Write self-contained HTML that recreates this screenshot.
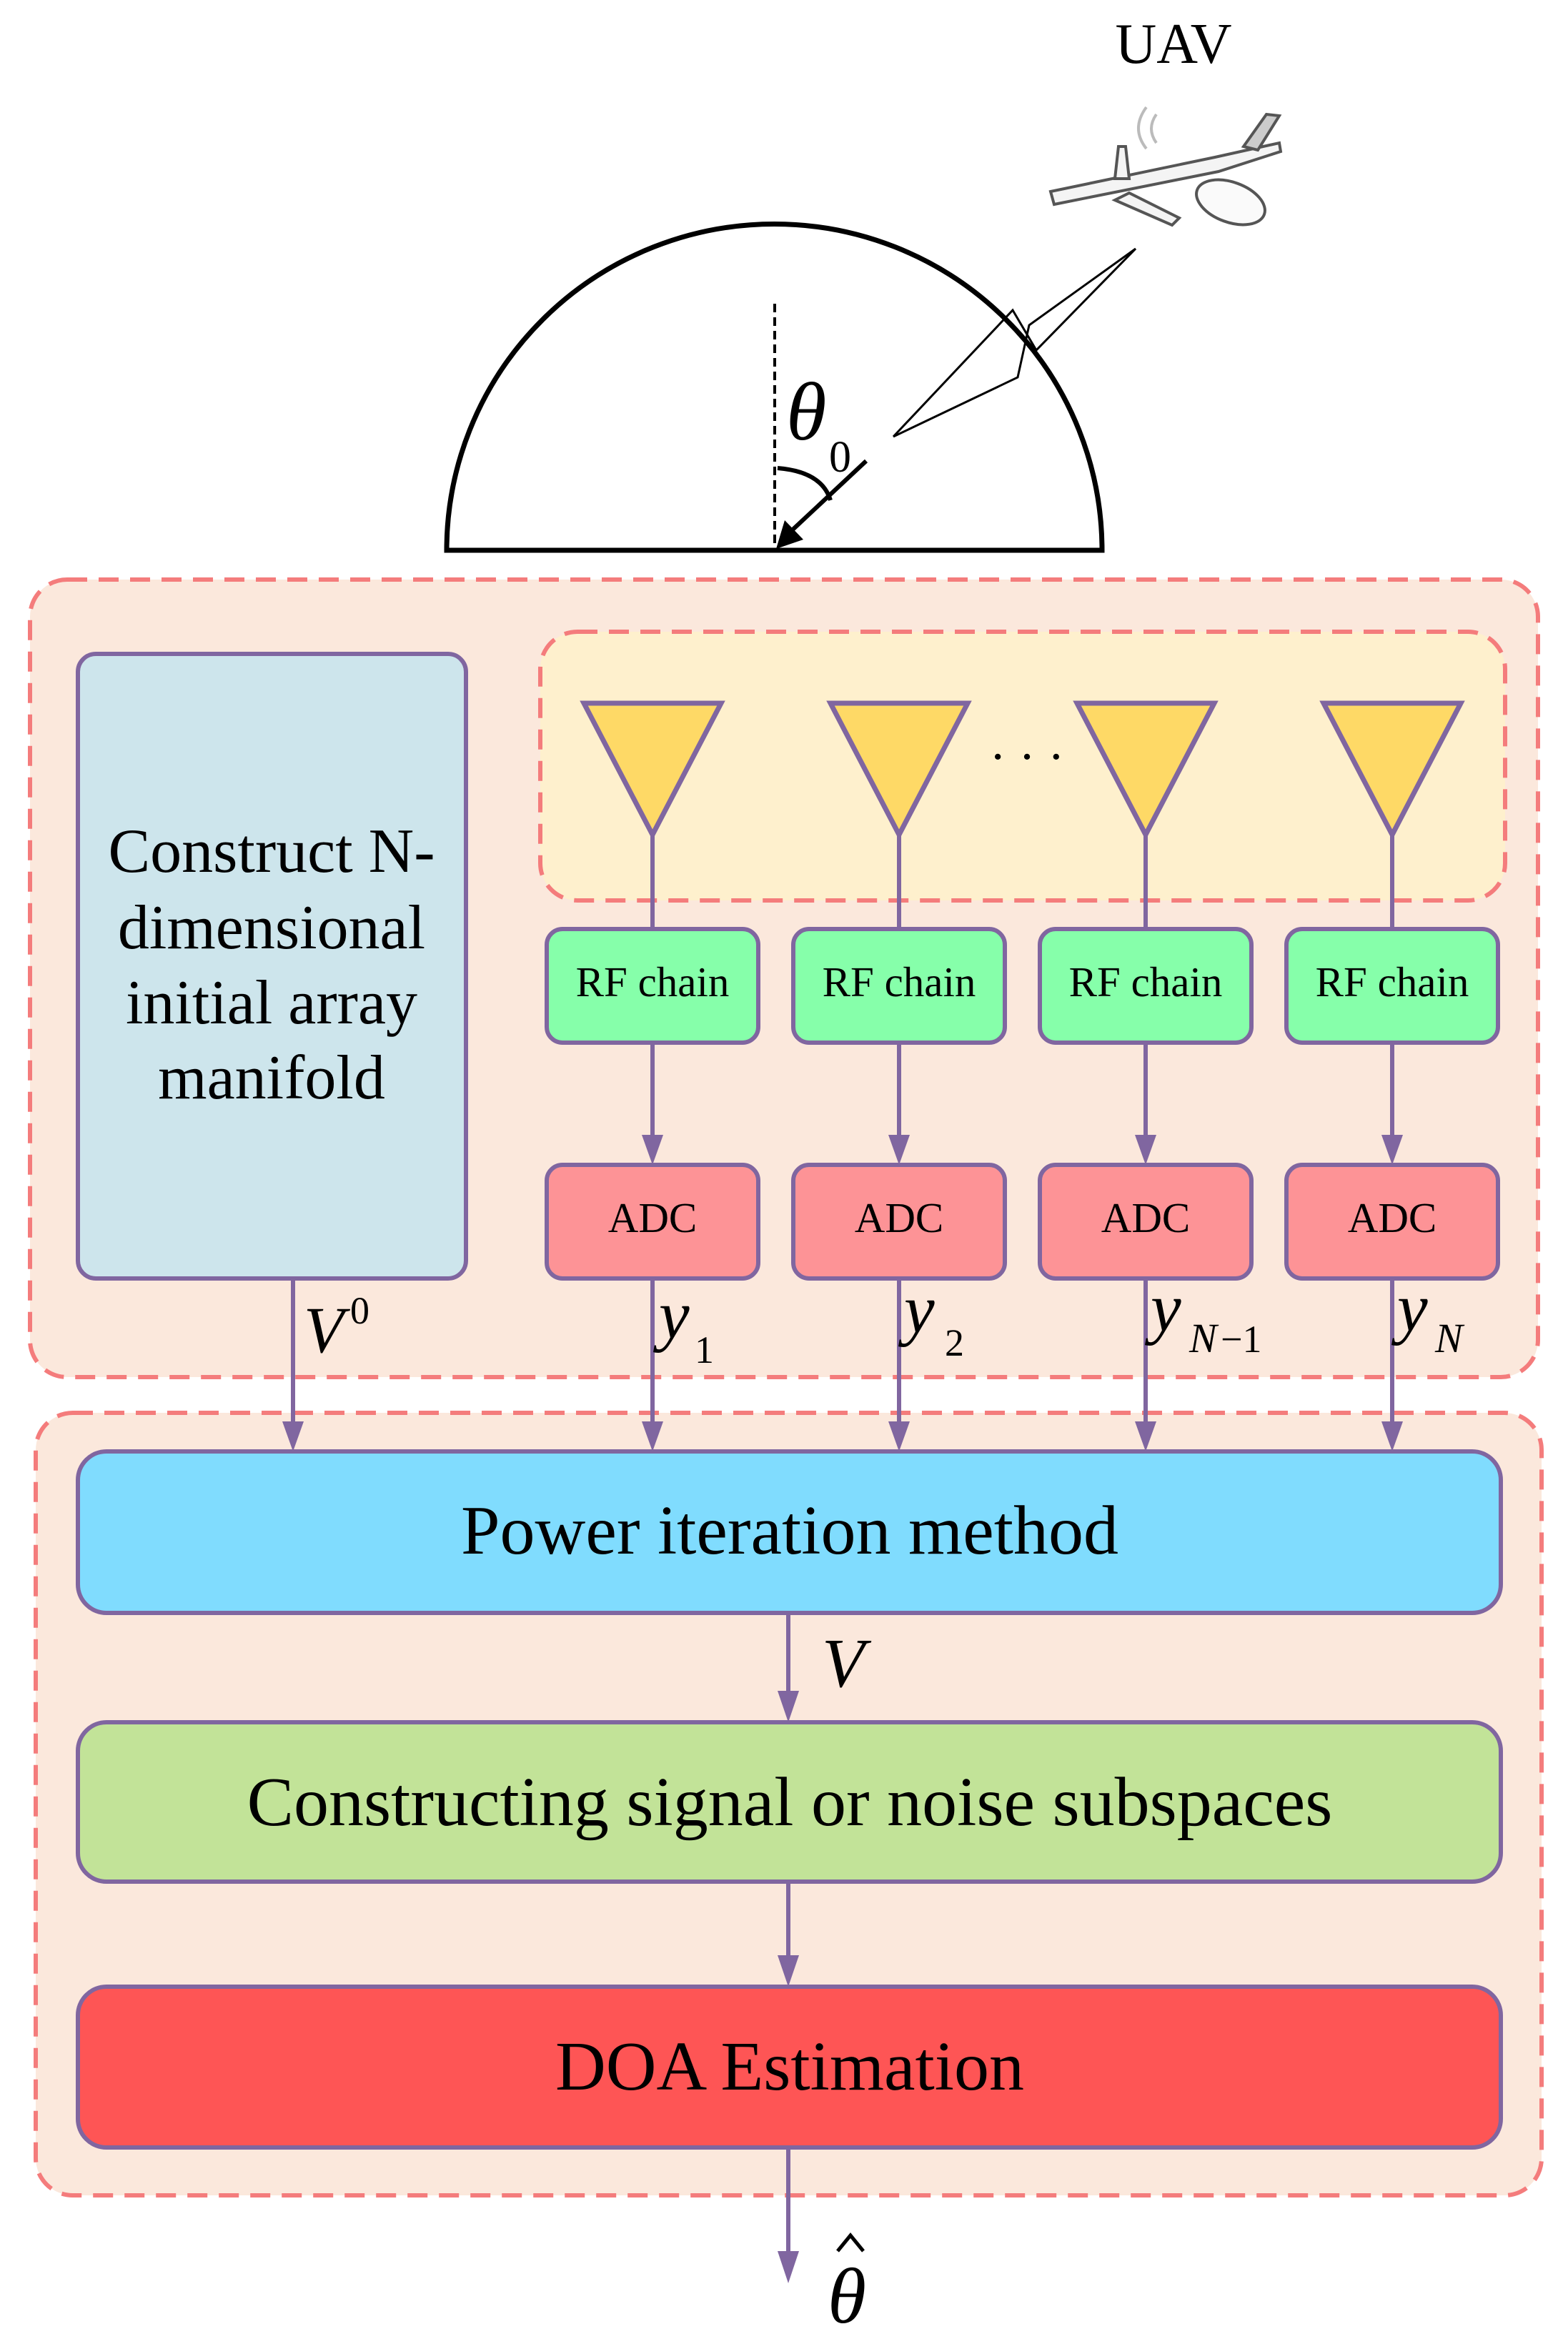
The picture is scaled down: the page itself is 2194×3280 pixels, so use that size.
<!DOCTYPE html>
<html><head><meta charset="utf-8"><style>
html,body{margin:0;padding:0;background:#fff;}
svg{display:block;}
text{font-family:"Liberation Serif",serif;fill:#000;}
</style></head><body>
<svg width="2194" height="3280" viewBox="0 0 2194 3280" xmlns="http://www.w3.org/2000/svg">
<!-- UAV label -->
<text x="1642" y="88" font-size="80" text-anchor="middle">UAV</text>
<!-- drone -->
<g stroke="#555" stroke-width="4" fill="#f4f4f4">
<path d="M1470 268 L1700 220 L1790 200 L1792 212 L1705 240 L1475 286 Z"/>
<path d="M1740 205 L1772 160 L1790 162 L1760 210 Z" fill="#ccc"/>
<path d="M1560 250 L1565 205 L1575 205 L1580 250 Z"/>
<path d="M1560 280 L1640 315 L1650 305 L1580 270 Z"/>
<ellipse cx="1722" cy="283" rx="50" ry="28" transform="rotate(20 1722 283)" fill="#fafafa"/>
</g>
<path d="M1618 160 q-14 20 0 40 M1604 150 q-22 30 0 58" stroke="#bbb" stroke-width="4" fill="none"/>
<!-- hemisphere -->
<path d="M625 770 A458 456 0 0 1 1542 770 Z" fill="none" stroke="#000" stroke-width="7"/>
<line x1="1084" y1="425" x2="1084" y2="770" stroke="#000" stroke-width="4" stroke-dasharray="12,7"/>
<!-- lightning -->
<polyline points="1589,348 1440,455 1424,528 1250,611" fill="none" stroke="#000" stroke-width="3"/>
<polyline points="1589,348 1450,490 1417,434 1250,611" fill="none" stroke="#000" stroke-width="3"/>
<!-- arrow to center -->
<line x1="1212" y1="645" x2="1105" y2="745" stroke="#000" stroke-width="6"/>
<polygon points="1086,768 1098,728 1124,755" fill="#000"/>
<path d="M1088 655 Q1150 660 1162 700" fill="none" stroke="#000" stroke-width="6"/>
<text x="1100" y="615" font-size="115" font-style="italic">θ</text>
<text x="1160" y="660" font-size="62">0</text>

<!-- outer box 1 -->
<rect x="42" y="811" width="2110" height="1116" rx="52" fill="#fbe8dc" stroke="#f47c7c" stroke-width="6" stroke-dasharray="28,16"/>
<rect x="756" y="884" width="1350" height="376" rx="52" fill="#fef0cd" stroke="#f47c7c" stroke-width="6" stroke-dasharray="28,16"/>
<!-- blue box -->
<rect x="109" y="915" width="543" height="874" rx="25" fill="#cde5ec" stroke="#8066a0" stroke-width="6"/>
<g font-size="88" text-anchor="middle">
<text x="380" y="1220">Construct N-</text>
<text x="380" y="1327">dimensional</text>
<text x="380" y="1432">initial array</text>
<text x="380" y="1537">manifold</text>
</g>
<text x="1437" y="1082" font-size="70" text-anchor="middle">· · ·</text>

<!-- columns -->
<g>
<g transform="translate(913,0)">
<line x1="0" y1="1160" x2="0" y2="1300" stroke="#8066a0" stroke-width="6"/>
<polygon points="-96,984 96,984 0,1168" fill="#fed966" stroke="#8066a0" stroke-width="7"/>
<rect x="-148" y="1300" width="296" height="159" rx="22" fill="#86ffaa" stroke="#8066a0" stroke-width="6"/>
<text x="0" y="1394" font-size="59" text-anchor="middle">RF chain</text>
<line x1="0" y1="1459" x2="0" y2="1592" stroke="#8066a0" stroke-width="6"/>
<polygon points="-15,1588 15,1588 0,1630" fill="#8066a0"/>
<rect x="-148" y="1630" width="296" height="159" rx="22" fill="#fd9396" stroke="#8066a0" stroke-width="6"/>
<text x="0" y="1724" font-size="59" text-anchor="middle">ADC</text>
<line x1="0" y1="1789" x2="0" y2="1995" stroke="#8066a0" stroke-width="6"/>
</g>
<g transform="translate(1258,0)">
<line x1="0" y1="1160" x2="0" y2="1300" stroke="#8066a0" stroke-width="6"/>
<polygon points="-96,984 96,984 0,1168" fill="#fed966" stroke="#8066a0" stroke-width="7"/>
<rect x="-148" y="1300" width="296" height="159" rx="22" fill="#86ffaa" stroke="#8066a0" stroke-width="6"/>
<text x="0" y="1394" font-size="59" text-anchor="middle">RF chain</text>
<line x1="0" y1="1459" x2="0" y2="1592" stroke="#8066a0" stroke-width="6"/>
<polygon points="-15,1588 15,1588 0,1630" fill="#8066a0"/>
<rect x="-148" y="1630" width="296" height="159" rx="22" fill="#fd9396" stroke="#8066a0" stroke-width="6"/>
<text x="0" y="1724" font-size="59" text-anchor="middle">ADC</text>
<line x1="0" y1="1789" x2="0" y2="1995" stroke="#8066a0" stroke-width="6"/>
</g>
<g transform="translate(1603,0)">
<line x1="0" y1="1160" x2="0" y2="1300" stroke="#8066a0" stroke-width="6"/>
<polygon points="-96,984 96,984 0,1168" fill="#fed966" stroke="#8066a0" stroke-width="7"/>
<rect x="-148" y="1300" width="296" height="159" rx="22" fill="#86ffaa" stroke="#8066a0" stroke-width="6"/>
<text x="0" y="1394" font-size="59" text-anchor="middle">RF chain</text>
<line x1="0" y1="1459" x2="0" y2="1592" stroke="#8066a0" stroke-width="6"/>
<polygon points="-15,1588 15,1588 0,1630" fill="#8066a0"/>
<rect x="-148" y="1630" width="296" height="159" rx="22" fill="#fd9396" stroke="#8066a0" stroke-width="6"/>
<text x="0" y="1724" font-size="59" text-anchor="middle">ADC</text>
<line x1="0" y1="1789" x2="0" y2="1995" stroke="#8066a0" stroke-width="6"/>
</g>
<g transform="translate(1948,0)">
<line x1="0" y1="1160" x2="0" y2="1300" stroke="#8066a0" stroke-width="6"/>
<polygon points="-96,984 96,984 0,1168" fill="#fed966" stroke="#8066a0" stroke-width="7"/>
<rect x="-148" y="1300" width="296" height="159" rx="22" fill="#86ffaa" stroke="#8066a0" stroke-width="6"/>
<text x="0" y="1394" font-size="59" text-anchor="middle">RF chain</text>
<line x1="0" y1="1459" x2="0" y2="1592" stroke="#8066a0" stroke-width="6"/>
<polygon points="-15,1588 15,1588 0,1630" fill="#8066a0"/>
<rect x="-148" y="1630" width="296" height="159" rx="22" fill="#fd9396" stroke="#8066a0" stroke-width="6"/>
<text x="0" y="1724" font-size="59" text-anchor="middle">ADC</text>
<line x1="0" y1="1789" x2="0" y2="1995" stroke="#8066a0" stroke-width="6"/>
</g>
</g>
<line x1="410" y1="1789" x2="410" y2="1995" stroke="#8066a0" stroke-width="6"/>

<!-- outer box 2 -->
<rect x="50" y="1977" width="2107" height="1095" rx="52" fill="#fbe8dc" stroke="#f47c7c" stroke-width="6" stroke-dasharray="28,16"/>
<g stroke="#8066a0" stroke-width="6">
<line x1="410" y1="1960" x2="410" y2="1995"/>
<line x1="913" y1="1960" x2="913" y2="1995"/>
<line x1="1258" y1="1960" x2="1258" y2="1995"/>
<line x1="1603" y1="1960" x2="1603" y2="1995"/>
<line x1="1948" y1="1960" x2="1948" y2="1995"/>
</g>
<g fill="#8066a0">
<polygon points="395,1989 425,1989 410,2031"/>
<polygon points="898,1989 928,1989 913,2031"/>
<polygon points="1243,1989 1273,1989 1258,2031"/>
<polygon points="1588,1989 1618,1989 1603,2031"/>
<polygon points="1933,1989 1963,1989 1948,2031"/>
</g>
<!-- labels -->
<g font-style="italic">
<text x="425" y="1892" font-size="92">V</text>
<text x="490" y="1852" font-size="54" font-style="normal">0</text>
<text x="922" y="1872" font-size="96">y</text>
<text x="972" y="1907" font-size="54" font-style="normal">1</text>
<text x="1265" y="1864" font-size="96">y</text>
<text x="1322" y="1897" font-size="54" font-style="normal">2</text>
<text x="1610" y="1862" font-size="96">y</text>
<text x="1664" y="1892" font-size="58">N</text>
<text x="1708" y="1892" font-size="54" font-style="normal">−1</text>
<text x="1955" y="1862" font-size="96">y</text>
<text x="2008" y="1892" font-size="58">N</text>
</g>

<!-- bottom boxes -->
<rect x="109" y="2031" width="1991" height="226" rx="40" fill="#80dcfe" stroke="#8066a0" stroke-width="6"/>
<text x="1105" y="2174" font-size="98" text-anchor="middle">Power iteration method</text>
<line x1="1103" y1="2257" x2="1103" y2="2370" stroke="#8066a0" stroke-width="6"/>
<polygon points="1088,2366 1118,2366 1103,2410" fill="#8066a0"/>
<text x="1150" y="2360" font-size="98" font-style="italic">V</text>
<rect x="109" y="2410" width="1991" height="223" rx="40" fill="#c2e398" stroke="#8066a0" stroke-width="6"/>
<text x="1105" y="2554" font-size="98" text-anchor="middle">Constructing signal or noise subspaces</text>
<line x1="1103" y1="2633" x2="1103" y2="2740" stroke="#8066a0" stroke-width="6"/>
<polygon points="1088,2736 1118,2736 1103,2780" fill="#8066a0"/>
<rect x="109" y="2780" width="1991" height="225" rx="40" fill="#fe5555" stroke="#8066a0" stroke-width="6"/>
<text x="1105" y="2924" font-size="98" text-anchor="middle">DOA Estimation</text>
<line x1="1103" y1="3005" x2="1103" y2="3155" stroke="#8066a0" stroke-width="6"/>
<polygon points="1088,3150 1118,3150 1103,3195" fill="#8066a0"/>
<text x="1158" y="3250" font-size="110" font-style="italic">θ</text>
<path d="M1172 3150 L1190 3128 L1208 3150" fill="none" stroke="#000" stroke-width="5"/>
</svg>
</body></html>
